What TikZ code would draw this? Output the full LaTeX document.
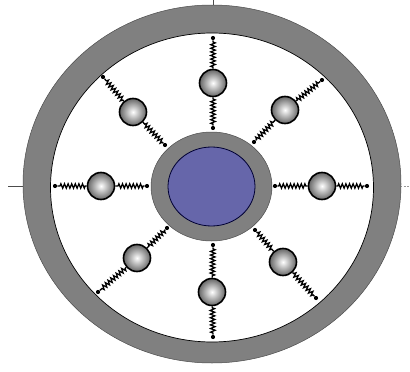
\documentclass[tikz,border=0pt]{standalone}
\usetikzlibrary{decorations.pathmorphing}
\definecolor{ringgray}{RGB}{128,128,128}
\definecolor{coreblue}{RGB}{102,102,170}
\tikzset{
  bead/.style={circle, draw=black, line width=1.6pt, minimum size=27pt, inner sep=0pt,
    inner color=white, outer color=black!60},
  dot/.style={circle, fill=black, inner sep=0pt, minimum size=4.2pt},
  spring/.style={line width=1.3pt, decorate,
    decoration={zigzag, segment length=3.6pt, amplitude=2.2pt, pre length=1.5pt, post length=1.5pt}},
  tick/.style={line width=0.5pt, black!70}
}
\begin{document}
\begin{tikzpicture}[x=1pt,y=-1pt]
\useasboundingbox (0,0) rectangle (410,372);
% axis ticks
\coordinate (tl0) at (8,186); \coordinate (tl1) at (24,186);
\coordinate (tt0) at (213,0); \coordinate (tt1) at (213,6);
\coordinate (tr0) at (400,186); \coordinate (tr1) at (410,186);
\draw[tick] (tl0) -- (tl1);
\draw[tick] (tt0) -- (tt1);
\draw[tick, black!40, dashed, dash pattern=on 2pt off 1.5pt] (tr0) -- (tr1);
% outer ring
\fill[ringgray, even odd rule] (212,184) ellipse [x radius=189, y radius=179]
   (212,187.5) ellipse [x radius=161.5, y radius=154.5];
\draw[black!70, line width=0.5pt] (212,184) ellipse [x radius=189, y radius=179];
\draw[black, line width=0.7pt] (212,187.5) ellipse [x radius=161.5, y radius=154.5];
% core
\fill[ringgray, draw=black!70, line width=0.5pt] (211.5,186.5) ellipse [x radius=60.5, y radius=54.5];
\fill[coreblue, draw=black!80!blue, line width=0.8pt] (211.5,186.5) ellipse [x radius=43.5, y radius=39.5];
% beads
\node[bead] (bT) at (213,83) {};
\node[bead] (bB) at (212,292) {};
\node[bead] (bL) at (101,186) {};
\node[bead] (bR) at (322,186) {};
\node[bead] (bUL) at (133,112) {};
\node[bead] (bUR) at (285,110) {};
\node[bead] (bLL) at (137,258) {};
\node[bead] (bLR) at (283,262) {};
% dots
\node[dot] (iT) at (213,128) {};  \node[dot] (oT) at (213,38) {};
\node[dot] (iB) at (213,245) {};  \node[dot] (oB) at (213,337) {};
\node[dot] (iL) at (147,186) {};  \node[dot] (oL) at (55,186) {};
\node[dot] (iR) at (275,186) {};  \node[dot] (oR) at (367,186) {};
\node[dot] (iUL) at (165,145) {}; \node[dot] (oUL) at (103,77) {};
\node[dot] (iUR) at (254,142) {}; \node[dot] (oUR) at (322,80) {};
\node[dot] (iLL) at (167,228) {}; \node[dot] (oLL) at (98,292) {};
\node[dot] (iLR) at (255,230) {}; \node[dot] (oLR) at (316,298) {};
% springs
\foreach \n in {T,B,L,R,UL,UR,LL,LR}{
  \draw[spring] (i\n) -- (b\n);
  \draw[spring] (b\n) -- (o\n);
}
\end{tikzpicture}
\end{document}
